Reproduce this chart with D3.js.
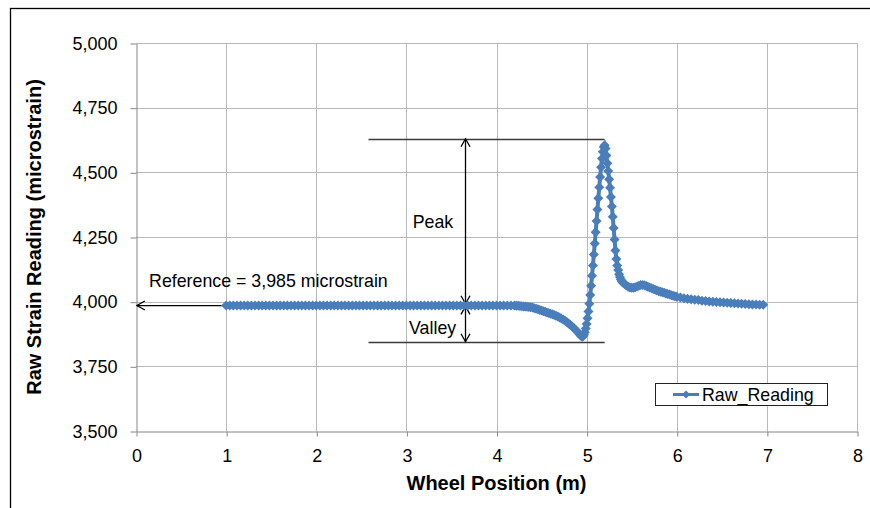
<!DOCTYPE html>
<html>
<head>
<meta charset="utf-8">
<script src="https://cdn.jsdelivr.net/npm/d3@7"></script>
<style>
  body { margin: 0; background: #fff; }
  svg { display: block; font-family: "Liberation Sans", Arial, sans-serif; }
</style>
</head>
<body>
<div id="chart"></div>
<script>
// wheel position (m) and raw strain reading (microstrain)
const pos = [
  1.00, 1.04, 1.08, 1.12, 1.16, 1.20, 1.24, 1.28, 1.32, 1.36, 1.40, 1.44, 1.48, 1.52, 1.56, 1.60,
  1.64, 1.68, 1.72, 1.76, 1.80, 1.84, 1.88, 1.92, 1.96, 2.00, 2.04, 2.08, 2.12, 2.16, 2.20, 2.24,
  2.28, 2.32, 2.36, 2.40, 2.44, 2.48, 2.52, 2.56, 2.60, 2.64, 2.68, 2.72, 2.76, 2.80, 2.84, 2.88,
  2.92, 2.96, 3.00, 3.04, 3.08, 3.12, 3.16, 3.20, 3.24, 3.28, 3.32, 3.36, 3.40, 3.44, 3.48, 3.52,
  3.56, 3.60, 3.64, 3.68, 3.72, 3.76, 3.80, 3.84, 3.88, 3.92, 3.96, 4.00, 4.04, 4.08, 4.12, 4.16,
  4.20, 4.22, 4.24, 4.26, 4.28, 4.30, 4.32, 4.34, 4.36, 4.38, 4.40, 4.42, 4.44, 4.46, 4.48, 4.50,
  4.52, 4.54, 4.56, 4.58, 4.60, 4.62, 4.64, 4.66, 4.68, 4.70, 4.72, 4.74, 4.76, 4.78, 4.80, 4.82,
  4.84, 4.86, 4.88, 4.90, 4.92,
  4.93, 4.94, 4.95, 4.96, 4.97, 4.98, 4.99, 5.00, 5.01, 5.02, 5.03, 5.04, 5.05, 5.06, 5.07, 5.08,
  5.09, 5.10, 5.11, 5.12, 5.13, 5.14, 5.15, 5.16, 5.17, 5.18, 5.19, 5.20, 5.21, 5.22, 5.23, 5.24,
  5.25, 5.26, 5.27, 5.28, 5.29, 5.30, 5.31, 5.32, 5.33, 5.34, 5.35, 5.36, 5.37, 5.38, 5.39, 5.40,
  5.42, 5.44, 5.46, 5.48, 5.50, 5.52, 5.54, 5.56, 5.58, 5.60, 5.62, 5.64, 5.66, 5.68, 5.70, 5.72,
  5.74, 5.76, 5.78, 5.80, 5.82, 5.84, 5.86, 5.88, 5.90, 5.92, 5.94, 5.96, 5.98, 6.00,
  6.04, 6.08, 6.12, 6.16, 6.20, 6.24, 6.28, 6.32, 6.36, 6.40, 6.44, 6.48, 6.52, 6.56, 6.60, 6.64,
  6.68, 6.72, 6.76, 6.80, 6.84, 6.88, 6.92, 6.96
];
const strain = [
  3985, 3985, 3985, 3985, 3985, 3985, 3985, 3985, 3985, 3985, 3985, 3985, 3985, 3985, 3985, 3985,
  3985, 3985, 3985, 3985, 3985, 3985, 3985, 3985, 3985, 3985, 3985, 3985, 3985, 3985, 3985, 3985,
  3985, 3985, 3985, 3985, 3985, 3985, 3985, 3985, 3985, 3985, 3985, 3985, 3985, 3985, 3985, 3985,
  3985, 3985, 3985, 3985, 3985, 3985, 3985, 3985, 3985, 3985, 3985, 3985, 3985, 3985, 3985, 3985,
  3985, 3985, 3985, 3985, 3985, 3985, 3985, 3985, 3985, 3985, 3985, 3985, 3985, 3985, 3985, 3985,
  3985, 3984, 3984, 3983, 3982, 3981, 3981, 3980, 3979, 3978, 3977, 3975, 3973, 3971, 3968, 3966,
  3963, 3961, 3958, 3956, 3953, 3951, 3948, 3946, 3943, 3939, 3935, 3931, 3926, 3921, 3916, 3910,
  3904, 3897, 3890, 3883, 3875,
  3871, 3867, 3864, 3866, 3872, 3882, 3896, 3914, 3936, 3962, 3992, 4026, 4062, 4100, 4140, 4182,
  4225, 4268, 4312, 4356, 4400, 4442, 4482, 4520, 4553, 4580, 4598, 4605, 4592, 4565, 4535, 4505,
  4473, 4440, 4405, 4368, 4328, 4285, 4240, 4198, 4165, 4140, 4122, 4106, 4095, 4086, 4079, 4074,
  4068, 4063, 4058, 4055, 4054, 4054, 4056, 4059, 4062, 4064, 4064, 4063, 4061, 4058, 4055, 4052,
  4049, 4046, 4043, 4040, 4038, 4036, 4034, 4032, 4030, 4028, 4025, 4023, 4021, 4019,
  4016, 4013, 4011, 4009, 4007, 4006, 4004, 4003, 4001, 4000, 3999, 3998, 3997, 3996, 3995, 3994,
  3993, 3992, 3991, 3990, 3989, 3989, 3988, 3988
];
const xTicks = [0, 1, 2, 3, 4, 5, 6, 7, 8];
const yTicks = [3500, 3750, 4000, 4250, 4500, 4750, 5000];
const seriesName = 'Raw_Reading';
const referenceText = 'Reference = 3,985 microstrain';

const w = 870;
const h = 508;
const blue = '#4a7ebb';

const svg = d3.select('#chart')
  .append('svg')
  .attr('width', w)
  .attr('height', h);

// outer chart border (only left/top visible in the crop)
svg.append('rect')
  .attr('x', 10.5).attr('y', 8.5)
  .attr('width', 900).attr('height', 600)
  .attr('fill', 'none')
  .attr('stroke', '#000')
  .attr('stroke-width', 1.3);

const x = d3.scaleLinear().domain([0, 8]).range([136, 857]);
const y = d3.scaleLinear().domain([3500, 5000]).range([431, 43]);

// gridlines
svg.append('g').selectAll('line')
  .data(xTicks.slice(1))
  .join('line')
  .attr('x1', d => Math.round(x(d)) + 0.5).attr('x2', d => Math.round(x(d)) + 0.5)
  .attr('y1', y(3500)).attr('y2', y(5000))
  .attr('stroke', '#b9b9b9');
svg.append('g').selectAll('line')
  .data(yTicks.slice(1))
  .join('line')
  .attr('x1', x(0)).attr('x2', x(8))
  .attr('y1', d => Math.round(y(d)) + 0.5).attr('y2', d => Math.round(y(d)) + 0.5)
  .attr('stroke', '#b9b9b9');

// axes
const xAxis = d3.axisBottom(x).tickValues(xTicks).tickFormat(d3.format('d'))
  .tickSize(5).tickSizeOuter(0).tickPadding(13);
const yAxis = d3.axisLeft(y).tickValues(yTicks).tickFormat(d3.format(','))
  .tickSize(6).tickSizeOuter(0).tickPadding(13);

const gx = svg.append('g')
  .attr('transform', `translate(0.5, ${Math.round(y(3500)) + 0.5})`)
  .call(xAxis);
const gy = svg.append('g')
  .attr('transform', `translate(${Math.round(x(0)) + 0.5}, 0.5)`)
  .call(yAxis);
[gx, gy].forEach(g => {
  g.select('.domain').attr('stroke', '#868686');
  g.selectAll('.tick line').attr('stroke', '#868686');
  g.selectAll('.tick text')
    .attr('fill', '#000')
    .style('font-size', '18px')
    .style('font-family', '"Liberation Sans", Arial, sans-serif');
});

// axis titles
svg.append('text')
  .attr('x', (x(0) + x(8)) / 2)
  .attr('y', 490)
  .attr('text-anchor', 'middle')
  .style('font-size', '20px')
  .style('font-weight', 'bold')
  .text('Wheel Position (m)');
svg.append('text')
  .attr('transform', `translate(41, ${(y(3500) + y(5000)) / 2}) rotate(-90)`)
  .attr('text-anchor', 'middle')
  .style('font-size', '20px')
  .style('font-weight', 'bold')
  .text('Raw Strain Reading (microstrain)');

// annotations: peak / valley levels, arrows, labels
const ann = svg.append('g').attr('stroke', '#000').attr('fill', 'none');
const head = (px, py, dir) => {
  // open V arrowhead pointing along dir ('up','down','left')
  const L = 8, W = 4.5;
  let pts;
  if (dir === 'up') pts = [[px - W, py + L], [px, py], [px + W, py + L]];
  if (dir === 'down') pts = [[px - W, py - L], [px, py], [px + W, py - L]];
  if (dir === 'left') pts = [[px + L, py - W], [px, py], [px + L, py + W]];
  ann.append('polyline').attr('points', pts.map(p => p.join(',')).join(' ')).attr('stroke-width', 1.3);
};
const levelLines = [4630, 3845];
levelLines.forEach(v => {
  ann.append('line')
    .attr('x1', x(2.58)).attr('x2', x(5.2))
    .attr('y1', Math.round(y(v)) + 0.5).attr('y2', Math.round(y(v)) + 0.5)
    .attr('stroke', '#3a3a3a').attr('stroke-width', 1.4);
});
const ax = Math.round(x(3.65)) + 0.5;
// peak arrow
ann.append('line').attr('x1', ax).attr('x2', ax).attr('y1', y(4630)).attr('y2', y(3992)).attr('stroke-width', 1.3);
head(ax, y(4630), 'up');
head(ax, y(3992), 'down');
// valley arrow
ann.append('line').attr('x1', ax).attr('x2', ax).attr('y1', y(3982)).attr('y2', y(3845)).attr('stroke-width', 1.3);
head(ax, y(3982), 'up');
head(ax, y(3845), 'down');
// reference arrow
ann.append('line').attr('x1', x(0.99)).attr('x2', x(0.01)).attr('y1', y(3985)).attr('y2', y(3985)).attr('stroke-width', 1.3);
head(x(0.01), y(3985), 'left');

const labels = svg.append('g').style('font-size', '17.8px').attr('fill', '#000');
labels.append('text').attr('x', x(0.145)).attr('y', y(4057)).text(referenceText);
labels.append('text').attr('x', x(3.07)).attr('y', y(4285)).text('Peak');
labels.append('text').attr('x', x(3.03)).attr('y', y(3875)).text('Valley');

// series: line + diamond markers
const series = pos.map((p, i) => ({ p, v: strain[i] }));
svg.append('path')
  .datum(series)
  .attr('d', d3.line().x(d => x(d.p)).y(d => y(d.v)))
  .attr('fill', 'none')
  .attr('stroke', blue)
  .attr('stroke-width', 4);
const diamond = d3.symbol(d3.symbolSquare, 50);
svg.append('g').selectAll('path')
  .data(series)
  .join('path')
  .attr('d', diamond)
  .attr('transform', d => `translate(${x(d.p)}, ${y(d.v)}) rotate(45)`)
  .attr('fill', blue);

// legend
const lg = svg.append('g');
lg.append('rect')
  .attr('x', 655.5).attr('y', 383.5).attr('width', 172).attr('height', 22)
  .attr('fill', '#fff').attr('stroke', '#222');
lg.append('line')
  .attr('x1', 673).attr('x2', 699).attr('y1', 394.5).attr('y2', 394.5)
  .attr('stroke', blue).attr('stroke-width', 3);
lg.append('path')
  .attr('d', d3.symbol(d3.symbolSquare, 34))
  .attr('transform', 'translate(686, 394.5) rotate(45)')
  .attr('fill', blue);
lg.append('text')
  .attr('x', 702).attr('y', 401)
  .style('font-size', '17.8px')
  .text(seriesName);
</script>
</body>
</html>
